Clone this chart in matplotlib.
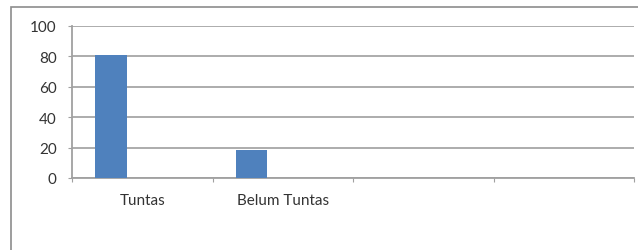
import numpy as np
import matplotlib.pyplot as plt
from matplotlib.patches import Rectangle

# Data
kategori = ['Tuntas', 'Belum Tuntas', '', '']
nilai = [81.25, 18.75, 0, 0]
y_ticks = [0, 20, 40, 60, 80, 100]

plt.rcParams['font.family'] = ['Lato', 'DejaVu Sans']

fig = plt.figure(figsize=(6.38, 2.51), dpi=100)
# bingkai grafik
fig.patches.append(Rectangle((11 / 638, -0.1), 1.0, (251 - 8) / 251 + 0.1,
                             transform=fig.transFigure, fill=False,
                             edgecolor='#8c8c8c', linewidth=1.2))

ax = fig.add_axes([72 / 638, 1 - 179 / 251, (634 - 72) / 638, (179 - 27) / 251])

n_seri = 3
lebar = 1 / (n_seri + 1.5)
x = np.arange(len(kategori))
ax.bar(x + 0.75 * lebar, nilai, width=lebar, align='edge', color='#4f81bd', zorder=3)

ax.set_xlim(0, len(kategori))
ax.set_ylim(0, 100)
ax.set_yticks(y_ticks)
ax.set_xticks(np.arange(len(kategori) + 1))
ax.set_xticklabels([])
ax.set_xticks(x + 0.5, minor=True)
ax.set_xticklabels(kategori, minor=True)
ax.tick_params(axis='x', which='minor', length=0, pad=11, labelsize=11, labelcolor='#333333')
ax.tick_params(axis='x', which='major', length=3, color='#a0a0a0', direction='out')
ax.tick_params(axis='y', length=3, color='#a0a0a0', labelsize=11, labelcolor='#333333', pad=8)

ax.grid(axis='y', color='#a6a6a6', linewidth=1.3, zorder=0)
for s in ['top', 'right']:
    ax.spines[s].set_visible(False)
ax.spines['left'].set_color('#a0a0a0')
ax.spines['bottom'].set_color('#a0a0a0')
ax.spines['left'].set_linewidth(1.3)
ax.spines['bottom'].set_linewidth(1.3)

fig.savefig('out.png', dpi=100)
